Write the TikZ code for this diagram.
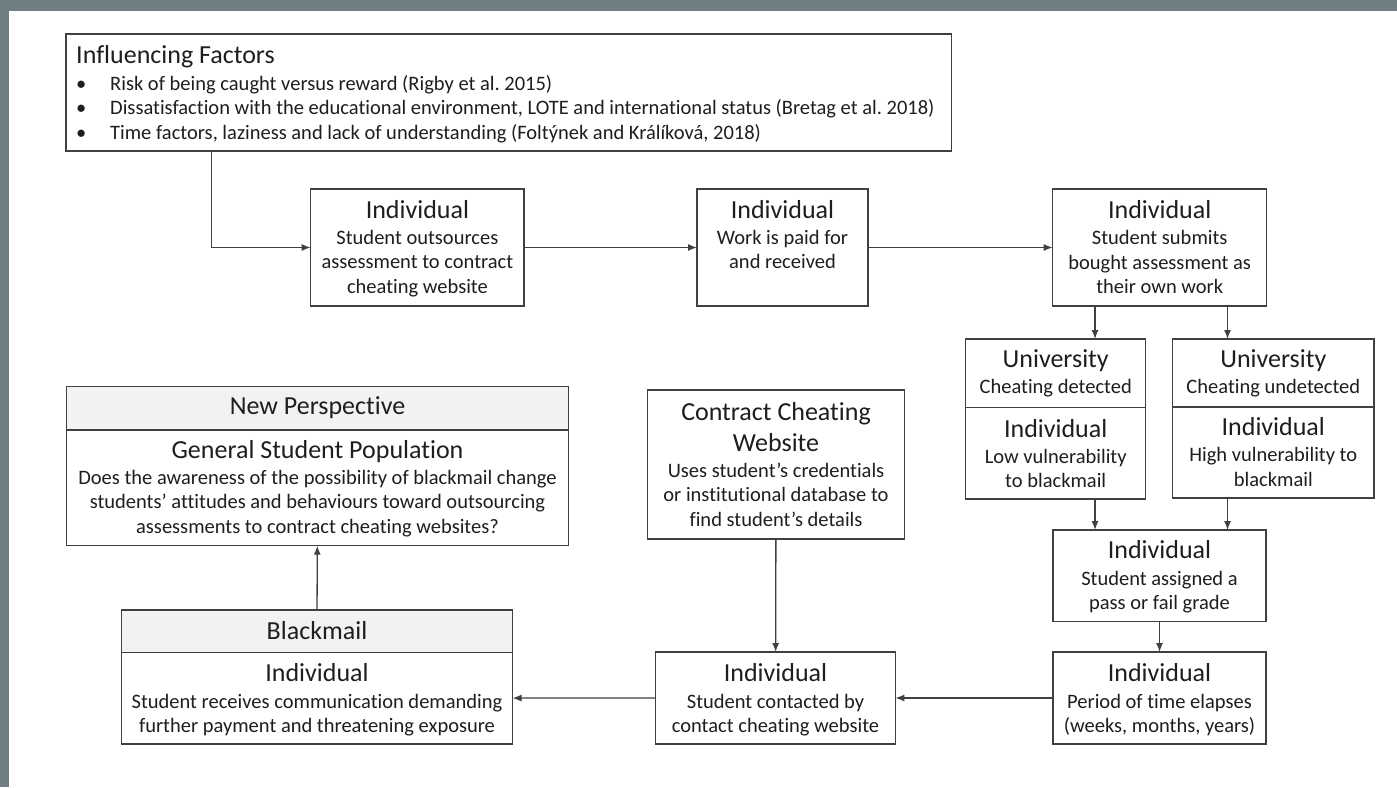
\documentclass[tikz,border=0pt]{standalone}
\usepackage{fontspec}
\setmainfont{Carlito}[Ligatures=NoCommon]
\usetikzlibrary{arrows.meta}
\definecolor{framec}{RGB}{110,126,131}
\definecolor{lc}{RGB}{64,64,64}
\definecolor{tc}{RGB}{30,30,30}
\definecolor{hf}{RGB}{242,242,242}
\newcommand{\mlines}[1]{\begin{tabular}[t]{@{}c@{}}#1\end{tabular}}
\frenchspacing
\begin{document}
\begin{tikzpicture}[x=1pt,y=-1pt,
  bx/.style={draw=lc, line width=1.3pt, inner sep=0pt, outer sep=0pt, anchor=north west, fill=white},
  hdr/.style={bx, fill=hf},
  ttl/.style={font=\fontsize{26}{31}\selectfont, text=tc, inner sep=0pt, anchor=base},
  bdy/.style={font=\fontsize{20.5}{24.5}\selectfont, text=tc, inner sep=0pt, anchor=base},
  arr/.style={draw=lc, line width=1.3pt, -{Latex[length=9pt,width=7pt]}}]
\useasboundingbox (0,0) rectangle (1397,787);
\fill[framec] (0,0) rectangle (1397,787);
\fill[white] (9,11) rectangle (1397,787);

% Influencing factors
\node[bx, minimum width=885.7pt, minimum height=117pt] (inf) at (66,34) {};
\node[ttl, anchor=base west] (inft) at (76,63) {Influencing Factors};
\node[bdy, anchor=base west] (infb) at (76,90) {\begin{tabular}[t]{@{}p{34pt}@{}l@{}}
\textbullet & Risk of being caught versus reward (Rigby et al. 2015)\\
\textbullet & Dissatisfaction with the educational environment, LOTE and international status (Bretag et al. 2018)\\
\textbullet & Time factors, laziness and lack of understanding (Foltýnek and Králíková, 2018)
\end{tabular}};

% top row
\node[bx, minimum width=213.3pt, minimum height=117pt] (b1) at (310.7,189) {};
\node[ttl] (b1t) at (417.4,218) {Individual};
\node[bdy] (b1b) at (417.4,244) {\mlines{Student outsources\\assessment to contract\\cheating website}};

\node[bx, minimum width=171pt, minimum height=117pt] (b2) at (697,189) {};
\node[ttl] (b2t) at (782.5,218) {Individual};
\node[bdy] (b2b) at (782.5,244) {\mlines{Work is paid for\\and received}};

\node[bx, minimum width=214pt, minimum height=117pt] (b3) at (1052.7,189) {};
\node[ttl] (b3t) at (1159.7,218) {Individual};
\node[bdy] (b3b) at (1159.7,244.5) {\mlines{Student submits\\bought assessment as\\their own work}};

% university boxes
\node[bx, minimum width=180pt, minimum height=68.7pt] (ult) at (965.7,339) {};
\node[bx, minimum width=180pt, minimum height=91.3pt] (ulb) at (965.7,407.7) {};
\node[ttl] (ultt) at (1055.7,367) {University};
\node[bdy] (ultb) at (1055.7,393) {Cheating detected};
\node[ttl] (ulbt) at (1055.7,437) {Individual};
\node[bdy] (ulbb) at (1055.7,463) {\mlines{Low vulnerability\\to blackmail}};

\node[bx, minimum width=201.3pt, minimum height=68pt] (urt) at (1172.7,339) {};
\node[bx, minimum width=201.3pt, minimum height=91pt] (urb) at (1172.7,407) {};
\node[ttl] (urtt) at (1273.3,367) {University};
\node[bdy] (urtb) at (1273.3,393) {Cheating undetected};
\node[ttl] (urbt) at (1273.3,435.5) {Individual};
\node[bdy] (urbb) at (1273.3,461.5) {\mlines{High vulnerability to\\blackmail}};

% pass/fail and period
\node[bx, minimum width=213pt, minimum height=91.7pt] (pf) at (1053,530) {};
\node[ttl] (pft) at (1159.5,558) {Individual};
\node[bdy] (pfb) at (1159.5,585) {\mlines{Student assigned a\\pass or fail grade}};

\node[bx, minimum width=213pt, minimum height=92pt] (per) at (1053,652) {};
\node[ttl] (pert) at (1159.5,681) {Individual};
\node[bdy] (perb) at (1159.5,708) {\mlines{Period of time elapses\\(weeks, months, years)}};

% contacted
\node[bx, minimum width=239.7pt, minimum height=92pt] (con) at (655.7,652) {};
\node[ttl] (cont) at (775.5,681) {Individual};
\node[bdy] (conb) at (775.5,708) {\mlines{Student contacted by\\contact cheating website}};

% contract cheating website
\node[bx, minimum width=256.7pt, minimum height=149pt] (cc) at (647.7,390) {};
\node[ttl] (cct) at (776,420) {\begin{tabular}[t]{@{}c@{}}Contract Cheating\\Website\end{tabular}};
\node[bdy] (ccb) at (776,477) {\mlines{Uses student’s credentials\\or institutional database to\\find student’s details}};

% blackmail
\node[hdr, minimum width=391.1pt, minimum height=42.3pt] (bmh) at (121.4,610) {};
\node[bx, minimum width=391.1pt, minimum height=91.7pt] (bmb) at (121.4,652.3) {};
\node[ttl] (bmht) at (317,639) {Blackmail};
\node[ttl] (bmbt) at (317,681) {Individual};
\node[bdy] (bmbb) at (317,708) {\mlines{Student receives communication demanding\\further payment and threatening exposure}};

% new perspective
\node[hdr, minimum width=502.1pt, minimum height=43.3pt] (nph) at (66.5,386.7) {};
\node[bx, minimum width=502.1pt, minimum height=115.7pt] (npb) at (66.5,430) {};
\node[ttl] (npht) at (317.5,414) {New Perspective};
\node[ttl] (npbt) at (317.5,458) {General Student Population};
\node[bdy] (npbb) at (317.5,484) {\mlines{Does the awareness of the possibility of blackmail change\\students’ attitudes and behaviours toward outsourcing\\assessments to contract cheating websites?}};

% connectors
\coordinate (vx) at (211.7,0);
\coordinate (dl) at (1095,0);
\coordinate (dr) at (1227.5,0);
\draw[arr] (inf.south -| vx) |- (b1.west);
\draw[arr] (b1) -- (b2);
\draw[arr] (b2) -- (b3);
\draw[arr] (b3.south -| dl) -- (ult.north -| dl);
\draw[arr] (b3.south -| dr) -- (urt.north -| dr);
\draw[arr] (ulb.south -| dl) -- (pf.north -| dl);
\draw[arr] (urb.south -| dr) -- (pf.north -| dr);
\draw[arr] (pf) -- (per);
\draw[arr] (per) -- (con);
\draw[arr] (cc) -- (con);
\draw[arr] (con) -- (bmb);
\draw[arr] (bmh) -- (npb);
\end{tikzpicture}
\end{document}
